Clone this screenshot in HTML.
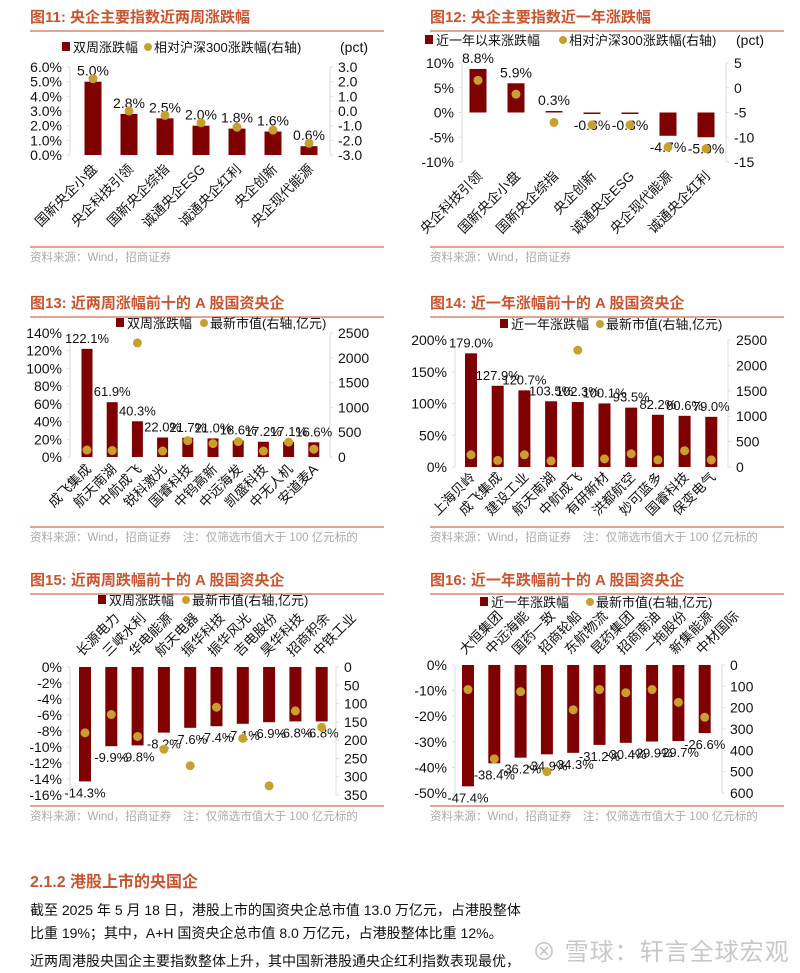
<!DOCTYPE html>
<html><head><meta charset="utf-8"><style>
html,body{margin:0;padding:0;background:#fff;}
body{width:800px;height:973px;overflow:hidden;position:relative;font-family:"Liberation Sans","Noto Sans CJK SC",sans-serif;}
svg text{font-family:"Liberation Sans","Noto Sans CJK SC",sans-serif;}
.h{position:absolute;left:30px;top:868px;font-size:16px;color:#C8552E;font-weight:bold;}
.p{position:absolute;left:30px;font-size:14px;color:#111;}
.wm{position:absolute;left:532px;top:932px;font-size:24px;color:#c8c8c8;letter-spacing:1px;}
</style></head><body>
<svg id="s" width="800" height="860" style="position:absolute;left:0;top:0"></svg>
<div class="h">2.1.2 港股上市的央国企</div>
<div class="p" style="top:900px">截至 2025 年 5 月 18 日，港股上市的国资央企总市值 13.0 万亿元，占港股整体</div>
<div class="p" style="top:923px">比重 19%；其中，A+H 国资央企总市值 8.0 万亿元，占港股整体比重 12%。</div>
<div class="p" style="top:951px">近两周港股央国企主要指数整体上升，其中国新港股通央企红利指数表现最优，</div>
<div class="wm">⊗ 雪球：轩言全球宏观</div>
<script>
// ---- Chart 11 data
const c11Cats=["国新央企小盘","央企科技引领","国新央企综指","诚通央企ESG","诚通央企红利","央企创新","央企现代能源"];
const c11Bars=[5.0,2.8,2.5,2.0,1.8,1.6,0.6];
const c11Dots=[2.2,0.0,-0.3,-0.8,-1.1,-1.3,-2.2];
const c11LTicks=["6.0%","5.0%","4.0%","3.0%","2.0%","1.0%","0.0%"];
const c11RTicks=["3.0","2.0","1.0","0.0","-1.0","-2.0","-3.0"];
// ---- Chart 12 data
const c12Cats=["央企科技引领","国新央企小盘","国新央企综指","央企创新","诚通央企ESG","央企现代能源","诚通央企红利"];
const c12Bars=[8.8,5.9,0.3,-0.3,-0.3,-4.7,-5.0];
const c12Dots=[1.5,-1.3,-7.0,-7.5,-7.5,-12.0,-12.3];
const c12LTicks=["10%","5%","0%","-5%","-10%"];
const c12RTicks=["5","0","-5","-10","-15"];
// ---- Chart 13 data
const c13Cats=["成飞集成","航天南湖","中航成飞","锐科激光","国睿科技","中钨高新","中远海发","凯盛科技","中无人机","安道麦A"];
const c13Bars=[122.1,61.9,40.3,22.0,21.7,21.0,18.6,17.2,17.1,16.6];
const c13Dots=[140,130,2300,120,330,270,310,120,300,160];
const c13LTicks=["140%","120%","100%","80%","60%","40%","20%","0%"];
const c13RTicks=["2500","2000","1500","1000","500","0"];
// ---- Chart 14 data
const c14Cats=["上海贝岭","成飞集成","建设工业","航天南湖","中航成飞","有研新材","洪都航空","妙可蓝多","国睿科技","保变电气"];
const c14Bars=[179.0,127.9,120.7,103.5,102.3,100.1,93.5,82.2,80.6,79.0];
const c14Dots=[240,130,240,120,2300,160,260,140,320,140];
const c14LTicks=["200%","150%","100%","50%","0%"];
const c14RTicks=["2500","2000","1500","1000","500","0"];
// ---- Chart 15 data
const c15Cats=["长源电力","三峡水利","华电能源","航天电器","振华科技","振华风光","吉电股份","昊华科技","招商积余","中铁工业"];
const c15Bars=[-14.3,-9.9,-9.8,-8.2,-7.6,-7.4,-7.1,-6.9,-6.8,-6.8];
const c15Dots=[180,130,190,225,270,110,195,325,120,165];
const c15LTicks=["0%","-2%","-4%","-6%","-8%","-10%","-12%","-14%","-16%"];
const c15RTicks=["0","50","100","150","200","250","300","350"];
// ---- Chart 16 data
const c16Cats=["大恒集团","中远海能","国药一致","招商轮船","东航物流","昆药集团","招商南油","一拖股份","新集能源","中材国际"];
const c16Bars=[-47.4,-38.4,-36.2,-34.9,-34.3,-31.2,-30.4,-29.9,-29.7,-26.6];
const c16Dots=[115,440,125,500,210,115,130,115,175,245];
const c16LTicks=["0%","-10%","-20%","-30%","-40%","-50%"];
const c16RTicks=["0","100","200","300","400","500","600"];

const NS="http://www.w3.org/2000/svg";
const S=document.getElementById('s');
const BAR="#7F0000",DOT="#C9A02E",ORG="#C8552E",LINE="#D9876A";
function el(t,a,p){const e=document.createElementNS(NS,t);for(const k in a)e.setAttribute(k,a[k]);(p||S).appendChild(e);return e;}
function tx(x,y,s,a,p){const e=el('text',Object.assign({x:x,y:y,'font-size':13,fill:'#111'},a),p);e.textContent=s;return e;}

function chart(c){
  const g=el('g',{});
  
  
  const t=tx(c.x0+30,c.ty,c.title,{'font-size':15,'font-weight':'bold',fill:ORG},g);
  
  
  el('line',{x1:c.x0+30,x2:c.x0+384,y1:c.ty+9,y2:c.ty+9,stroke:LINE,'stroke-width':1.5},g);
  const lg=el('g',{},g);
  
  
  el('rect',{x:c.lx,y:c.ly-10,width:8,height:9,fill:BAR},lg);
  tx(c.lx+11,c.ly,c.l1,{'font-size':13},lg);
  el('circle',{cx:c.lx2,cy:c.ly-5,r:4,fill:DOT},lg);
  tx(c.lx2+6,c.ly,c.l2,{'font-size':13},lg);
  const ly=v=>c.yT+(c.lMax-v)/(c.lMax-c.lMin)*(c.yB-c.yT);
  const ry=v=>c.rInv? c.yT+(v-c.rMin)/(c.rMax-c.rMin)*(c.yB-c.yT) : c.yT+(c.rMax-v)/(c.rMax-c.rMin)*(c.yB-c.yT);
  const bx=i=>c.bx0+i*c.step;
  el('line',{x1:c.axL,x2:c.axL,y1:c.yT,y2:c.yB,stroke:'#ddd'},g);
  el('line',{x1:c.axR,x2:c.axR,y1:c.yT,y2:c.yB,stroke:'#ddd'},g);
  c.lt.forEach((s,i)=>{const y=c.yT+i*(c.yB-c.yT)/(c.lt.length-1);tx(c.axL-8,y+5,s,{'text-anchor':'end','font-size':c.tf||14},g);el('line',{x1:c.axL-3,x2:c.axL,y1:y,y2:y,stroke:'#ddd'},g);});
  c.rt.forEach((s,i)=>{const y=c.yT+i*(c.yB-c.yT)/(c.rt.length-1);tx(c.axR+8,y+5,s,{'font-size':c.tf||14},g);el('line',{x1:c.axR,x2:c.axR+3,y1:y,y2:y,stroke:'#ddd'},g);});
  if(c.unit) tx(c.axR+10,c.ly,c.unit,{'font-size':14},g);
  const z=ly(Math.max(c.lMin,Math.min(0,c.lMax)));
  c.bars.forEach((v,i)=>{
    const y=ly(v),x=bx(i);
    const r=el('rect',{x:x-c.bw/2,y:Math.min(y,z),width:c.bw,height:Math.max(1,Math.abs(y-z)),fill:BAR},g);
    
    
    const lab=v.toFixed(1)+'%';
    if(v>=0) tx(x,y-6,lab,{'text-anchor':'middle','font-size':c.vf||14},g);
    else tx(x,y+16,lab,{'text-anchor':'middle','font-size':c.vf||14},g);
  });
  c.dots.forEach((v,i)=>{
    const d=el('circle',{cx:bx(i),cy:ry(v),r:4.5,fill:DOT},g);
    
    
  });
  c.cats.forEach((s,i)=>{
    const x=bx(i);
    if(c.catTop){tx(x-3,c.cy,s,{'font-size':13.5,'text-anchor':'start',transform:`rotate(-45 ${x-3} ${c.cy})`},g);}
    else{tx(x+5,c.cy,s,{'font-size':13.5,'text-anchor':'end',transform:`rotate(-45 ${x+5} ${c.cy})`},g);}
  });
  el('line',{x1:c.x0+30,x2:c.x0+384,y1:c.sy,y2:c.sy,stroke:LINE,'stroke-width':1.5},g);
  tx(c.x0+30,c.sy+14,c.src,{'font-size':11.5,fill:'#aaa'},g);
}
const SRC1="资料来源：Wind，招商证券";
const SRC2="资料来源：Wind，招商证券　注：仅筛选市值大于 100 亿元标的";
chart({name:'chart-11',x0:0,ty:22,title:"图11:  央企主要指数近两周涨跌幅",lx:62,ly:52,l1:"双周涨跌幅",lx2:148,l2:"相对沪深300涨跌幅(右轴)",unit:"(pct)",
 yT:67,yB:155,lMax:6,lMin:0,rMax:3,rMin:-3,axL:70,axR:330,bx0:93,step:36,bw:17,cats:c11Cats,bars:c11Bars,dots:c11Dots,lt:c11LTicks,rt:c11RTicks,cy:170,sy:247,src:SRC1});
chart({name:'chart-12',x0:400,ty:22,title:"图12:  央企主要指数近一年涨跌幅",lx:425,ly:45,l1:"近一年以来涨跌幅",lx2:563,l2:"相对沪深300涨跌幅(右轴)",unit:"(pct)",
 yT:63,yB:162,lMax:10,lMin:-10,rMax:5,rMin:-15,axL:462,axR:726,bx0:478,step:38,bw:17,cats:c12Cats,bars:c12Bars,dots:c12Dots,lt:c12LTicks,rt:c12RTicks,cy:177,sy:247,src:SRC1});
chart({name:'chart-13',x0:0,ty:308,title:"图13:  近两周涨幅前十的 A 股国资央企",lx:116,ly:328,l1:"双周涨跌幅",lx2:204,l2:"最新市值(右轴,亿元)",
 yT:333,yB:457,lMax:140,lMin:0,rMax:2500,rMin:0,axL:70,axR:330,bx0:87,step:25.2,bw:11,vf:13,cats:c13Cats,bars:c13Bars,dots:c13Dots,lt:c13LTicks,rt:c13RTicks,cy:470,sy:527,src:SRC2});
chart({name:'chart-14',x0:400,ty:308,title:"图14:  近一年涨幅前十的 A 股国资央企",lx:500,ly:329,l1:"近一年涨跌幅",lx2:600,l2:"最新市值(右轴,亿元)",
 yT:340,yB:467,lMax:200,lMin:0,rMax:2500,rMin:0,axL:455,axR:728,bx0:471,step:26.7,bw:12,vf:13,cats:c14Cats,bars:c14Bars,dots:c14Dots,lt:c14LTicks,rt:c14RTicks,cy:478,sy:527,src:SRC2});
chart({name:'chart-15',x0:0,ty:585,title:"图15:  近两周跌幅前十的 A 股国资央企",lx:98,ly:605,l1:"双周涨跌幅",lx2:186,l2:"最新市值(右轴,亿元)",
 yT:667,yB:795,lMax:0,lMin:-16,rMax:350,rMin:0,rInv:true,axL:70,axR:336,bx0:85,step:26.3,bw:12,vf:13,cats:c15Cats,bars:c15Bars,dots:c15Dots,lt:c15LTicks,rt:c15RTicks,catTop:true,cy:657,sy:806,src:SRC2});
chart({name:'chart-16',x0:400,ty:585,title:"图16:  近一年跌幅前十的 A 股国资央企",lx:480,ly:607,l1:"近一年涨跌幅",lx2:590,l2:"最新市值(右轴,亿元)",
 yT:665,yB:793,lMax:0,lMin:-50,rMax:600,rMin:0,rInv:true,axL:455,axR:722,bx0:468,step:26.3,bw:12,vf:13,cats:c16Cats,bars:c16Bars,dots:c16Dots,lt:c16LTicks,rt:c16RTicks,catTop:true,cy:655,sy:806,src:SRC2});
</script>
</body></html>
